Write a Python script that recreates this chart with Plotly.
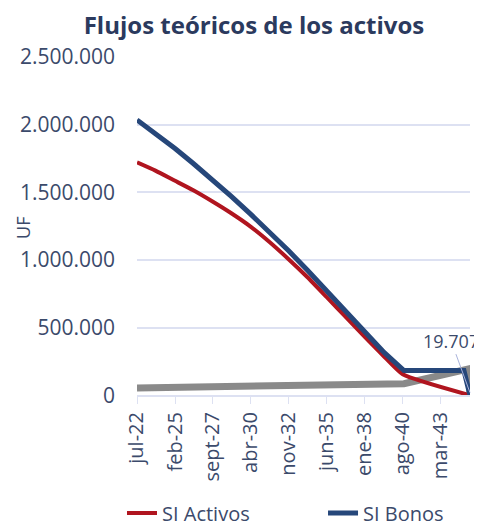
import plotly.graph_objects as go

# ---- data (UF) ----
bonos_dates = ["2022-07-01", "2023-10-01", "2025-02-01", "2026-05-01", "2027-09-01",
               "2028-12-01", "2030-04-01", "2031-07-01", "2032-11-01", "2034-02-01",
               "2035-06-01", "2036-09-01", "2038-01-01", "2039-05-01", "2040-09-01",
               "2044-10-01", "2045-03-01"]
bonos_vals = [2035000, 1936000, 1824000, 1713000, 1590000,
              1470000, 1337000, 1208000, 1066000, 926000,
              771000, 621000, 459000, 315000, 183000,
              183000, 0]

activos_dates = ["2022-07-01", "2023-10-01", "2025-02-01", "2026-05-01", "2027-09-01",
                 "2028-12-01", "2030-04-01", "2031-07-01", "2032-11-01", "2034-02-01",
                 "2035-06-01", "2036-09-01", "2038-01-01", "2039-04-01", "2040-08-01",
                 "2045-03-01"]
activos_vals = [1721000, 1660000, 1585000, 1515000, 1430000,
                1345000, 1245000, 1135000, 1004000, 874000,
                725000, 583000, 431000, 294000, 155000,
                0]

flujo_dates = ["2022-07-01", "2025-02-01", "2027-09-01", "2030-04-01", "2032-11-01",
               "2035-06-01", "2038-01-01", "2040-09-01", "2045-02-01", "2045-03-01"]
flujo_vals = [54000, 58000, 62000, 65000, 69000,
              73000, 78000, 86000, 195000, 19707]

tick_dates = ["2022-07-01", "2025-02-01", "2027-09-01", "2030-04-01", "2032-11-01",
              "2035-06-01", "2038-01-01", "2040-08-01", "2043-03-01"]
tick_text = ["jul-22", "feb-25", "sept-27", "abr-30", "nov-32",
             "jun-35", "ene-38", "ago-40", "mar-43"]
y_ticks = [0, 500000, 1000000, 1500000, 2000000, 2500000]

FONT = "Open Sans"
TXT = "#3b4a6b"
GRID = "#dde1f2"

# the page body adds an 8px offset, so the figure is 8px smaller than the window
W, H = 474, 519

fig = go.Figure()
fig.add_trace(go.Scatter(x=flujo_dates, y=flujo_vals, mode="lines", name="Flujo",
                         line=dict(color="#8a8a8a", width=7), showlegend=False))
fig.add_trace(go.Scatter(x=activos_dates, y=activos_vals, mode="lines", name="SI Activos",
                         line=dict(color="#b0151f", width=4, shape="spline", smoothing=0.5),
                         legend="legend"))
fig.add_trace(go.Scatter(x=bonos_dates, y=bonos_vals, mode="lines", name="SI Bonos",
                         line=dict(color="#26477a", width=5), legend="legend2"))

fig.add_annotation(x=flujo_dates[-1], y=flujo_vals[-1], text="19.707",
                   showarrow=True, arrowhead=0, arrowwidth=1, arrowcolor="#a9b3db",
                   ax=-19, ay=-52, font=dict(family=FONT, size=18, color=TXT))
fig.add_annotation(x=-0.344, y=0.496, xref="paper", yref="paper", text="UF",
                   textangle=-90, showarrow=False, xanchor="center", yanchor="middle",
                   font=dict(family=FONT, size=18, color=TXT))

leg_common = dict(orientation="h", xref="container", yref="container",
                  xanchor="left", yanchor="middle",
                  font=dict(family=FONT, size=20, color=TXT), itemwidth=30,
                  bgcolor="rgba(0,0,0,0)")

fig.update_layout(
    width=W, height=H,
    margin=dict(l=128, r=12, t=49, b=130),
    paper_bgcolor="white", plot_bgcolor="white",
    separators=",.",
    title=dict(text="<b>Flujos teóricos de los activos</b>", x=0.519, xanchor="center",
               y=0.966, yanchor="middle",
               font=dict(family=FONT, size=24, color="#2b3a5e")),
    font=dict(family=FONT, size=20, color=TXT),
    legend=dict(x=0.2405, y=0.027, **leg_common),
    legend2=dict(x=0.6646, y=0.027, **leg_common),
    xaxis=dict(type="date", range=["2022-07-01", "2045-03-01"],
               tickmode="array", tickvals=tick_dates, ticktext=tick_text,
               tickangle=-90, ticks="outside", ticklen=7, tickcolor=GRID,
               showgrid=False, showline=True, linecolor=GRID, linewidth=1.5,
               zeroline=False, tickfont=dict(family=FONT, size=20, color=TXT)),
    yaxis=dict(range=[0, 2500000], tickmode="array", tickvals=y_ticks,
               tickformat=",d", showgrid=True, gridcolor=GRID, gridwidth=1.5,
               zeroline=False, showline=False, ticks="", ticklabelstandoff=21,
               tickfont=dict(family=FONT, size=21, color=TXT)),
)

fig.write_html("out.html")
